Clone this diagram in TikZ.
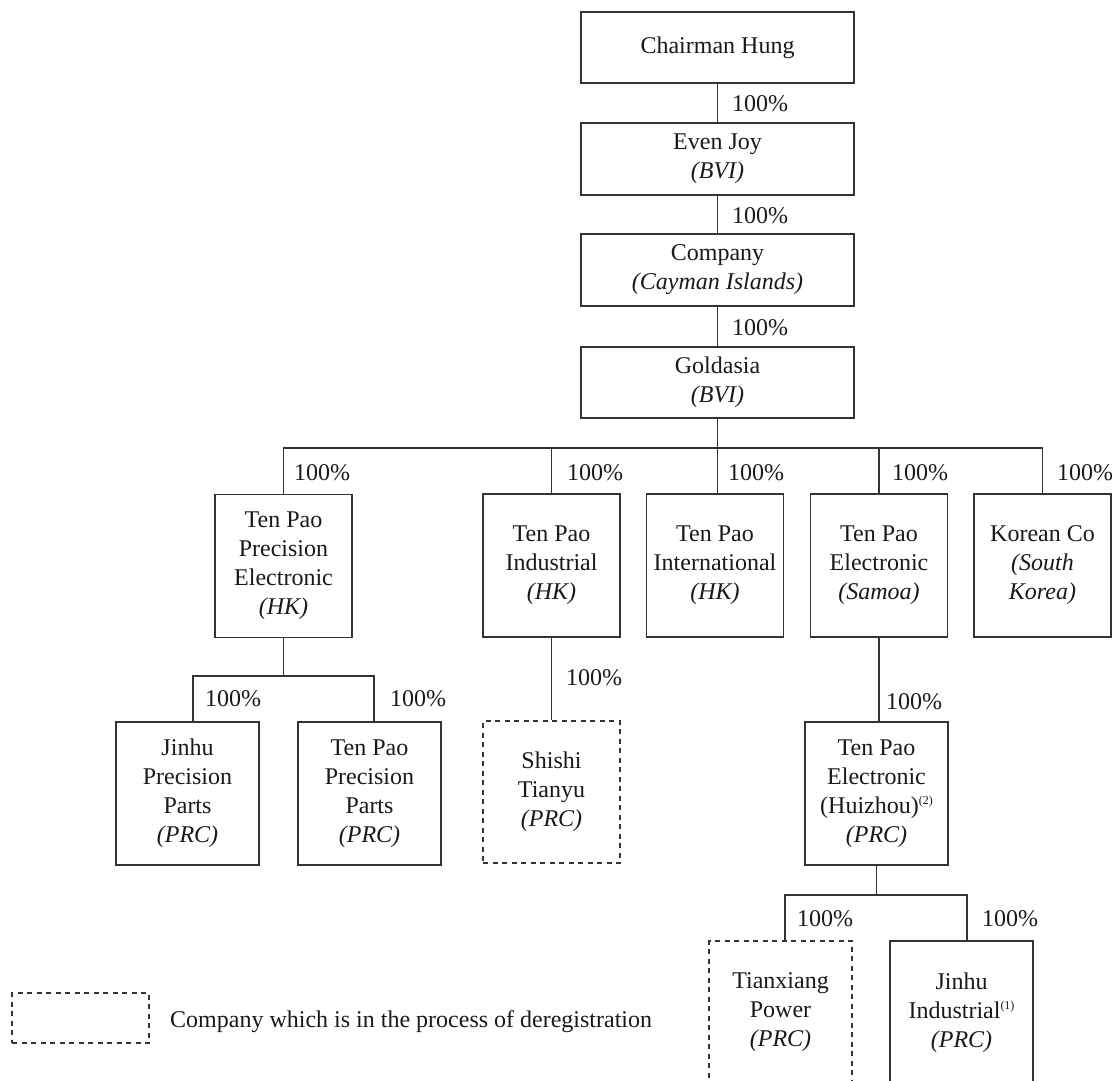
\documentclass[tikz,border=0pt]{standalone}
\usepackage{fontspec}
\setmainfont{Liberation Serif}
\begin{document}
\begin{tikzpicture}[x=1pt,y=-1pt,
  every node/.style={font=\fontsize{24}{29}\selectfont, text=black!90},
  box/.style={draw=black!80, line width=1.1pt, rectangle, align=center, inner sep=0pt},
  dbox/.style={box, dash pattern=on 5pt off 4.5pt},
  pct/.style={anchor=west, inner sep=0pt},
  conn/.style={draw=black!80, line width=1.1pt}]
\useasboundingbox (0,0) rectangle (1112,1080);
\clip (0,0) rectangle (1112,1080);
% top chain
\node[box, minimum width=273pt, minimum height=71pt] (chair) at (717.5,47.5) {Chairman Hung};
\node[box, minimum width=273pt, minimum height=72pt] (evenjoy) at (717.5,159) {Even Joy\\\textit{(BVI)}};
\node[box, minimum width=273pt, minimum height=72pt] (company) at (717.5,270) {Company\\\textit{(Cayman Islands)}};
\node[box, minimum width=273pt, minimum height=71pt] (goldasia) at (717.5,382.5) {Goldasia\\\textit{(BVI)}};
\draw[conn] (chair.south) -- (evenjoy.north);
\draw[conn] (evenjoy.south) -- (company.north);
\draw[conn] (company.south) -- (goldasia.north);
\node[pct] (p1) at (732,104) {100\%};
\node[pct] (p2) at (732,216) {100\%};
\node[pct] (p3) at (732,328) {100\%};
% level 2
\node[box, minimum width=137pt, minimum height=143pt] (tppe) at (283.5,566) {Ten Pao\\Precision\\Electronic\\\textit{(HK)}};
\node[box, minimum width=137pt, minimum height=143pt] (tpi) at (551.5,565.5) {Ten Pao\\Industrial\\\textit{(HK)}};
\node[box, minimum width=137pt, minimum height=143pt] (intl) at (715,565.5) {Ten Pao\\International\\\textit{(HK)}};
\node[box, minimum width=137pt, minimum height=143pt] (tpe) at (879,565.5) {Ten Pao\\Electronic\\\textit{(Samoa)}};
\node[box, minimum width=137pt, minimum height=143pt] (korean) at (1042.5,565.5) {Korean Co\\\textit{(South}\\\textit{Korea)}};
\coordinate (bus) at (0,448);
\draw[conn] (goldasia.south) -- (goldasia.south |- intl.north);
\draw[conn] (tppe.north) -- (tppe.north |- bus) -- (korean.north |- bus) -- (korean.north);
\draw[conn] (tpi.north) -- (tpi.north |- bus);
\draw[conn] (tpe.north) -- (tpe.north |- bus);
\node[pct] (q1) at (294,473) {100\%};
\node[pct] (q2) at (567,473) {100\%};
\node[pct] (q3) at (728,473) {100\%};
\node[pct] (q4) at (892,473) {100\%};
\node[pct] (q5) at (1057,473) {100\%};
% level 3
\node[box, minimum width=143pt, minimum height=143pt] (jpp) at (187.5,793.5) {Jinhu\\Precision\\Parts\\\textit{(PRC)}};
\node[box, minimum width=143pt, minimum height=143pt] (tppp) at (369.5,793.5) {Ten Pao\\Precision\\Parts\\\textit{(PRC)}};
\node[dbox, minimum width=137pt, minimum height=142pt] (shishi) at (551.5,792) {Shishi\\Tianyu\\\textit{(PRC)}};
\node[box, minimum width=143pt, minimum height=143pt] (huizhou) at (876.5,793.5) {Ten Pao\\Electronic\\(Huizhou)\raisebox{9pt}{\fontsize{12}{12}\selectfont(2)}\\\textit{(PRC)}};
\coordinate (bus2) at (0,676);
\draw[conn] (tppe.south) -- (tppe.south |- bus2);
\draw[conn] ([xshift=5.5pt]jpp.north) -- ([xshift=5.5pt]jpp.north |- bus2) -- ([xshift=4.5pt]tppp.north |- bus2) -- ([xshift=4.5pt]tppp.north);
\draw[conn] (tpi.south) -- (shishi.north);
\draw[conn] (tpe.south) -- (tpe.south |- huizhou.north);
\node[pct] (r1) at (205,699) {100\%};
\node[pct] (r2) at (390,699) {100\%};
\node[pct] (r3) at (566,678) {100\%};
\node[pct] (r4) at (886,702) {100\%};
% level 4
\node[dbox, minimum width=143pt, minimum height=143pt] (tianx) at (780.5,1012.5) {Tianxiang\\Power\\\textit{(PRC)}};
\node[box, minimum width=143pt, minimum height=143pt] (jind) at (961.5,1012.5) {Jinhu\\Industrial\raisebox{9pt}{\fontsize{12}{12}\selectfont(1)}\\\textit{(PRC)}};
\coordinate (bus3) at (0,895);
\draw[conn] (huizhou.south) -- (huizhou.south |- bus3);
\draw[conn] ([xshift=4.5pt]tianx.north) -- ([xshift=4.5pt]tianx.north |- bus3) -- ([xshift=5.5pt]jind.north |- bus3) -- ([xshift=5.5pt]jind.north);
\node[pct] (s1) at (797,919) {100\%};
\node[pct] (s2) at (982,919) {100\%};
% legend
\node[dbox, minimum width=137pt, minimum height=50pt] (legbox) at (80.5,1018) {};
\node[anchor=west, inner sep=0pt] (legtext) at (170,1022) {Company which is in the process of deregistration};
\end{tikzpicture}
\end{document}
